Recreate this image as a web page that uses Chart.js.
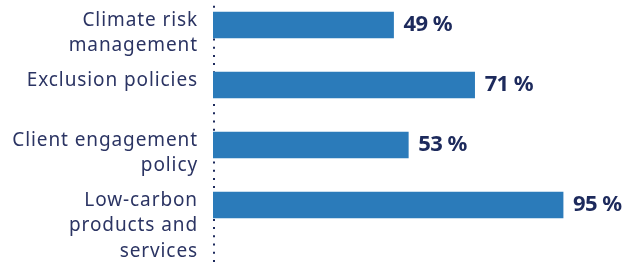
<!DOCTYPE html>
<html>
<head>
<meta charset="utf-8">
<script src="https://cdn.jsdelivr.net/npm/chart.js@4/dist/chart.umd.min.js"></script>
<style>
  html, body { margin: 0; padding: 0; background: #fff; overflow: hidden; }
  #wrap { position: absolute; left: 0; top: -5px; width: 632px; height: 274px; }
</style>
</head>
<body>
<div id="wrap"><canvas id="chart"></canvas></div>
<script>
var categories = [
  ['Climate risk', 'management'],
  ['Exclusion policies'],
  ['Client engagement', 'policy'],
  ['Low-carbon', 'products and', 'services']
];
var values = [49, 71, 53, 95];

var barColor = '#2b7bba';
var navy = '#1d2a5c';

// blank lines in front so the first text line sits on the bar
var labels = categories.map(function(lines) {
  var pad = [];
  for (var i = 1; i < lines.length; i++) pad.push('');
  return pad.concat(lines);
});

// wider tick text, the original font is broad
var spacing_plug = {
  id: 'tickSpacing',
  beforeDraw: function(chart) {
    chart.ctx.letterSpacing = '0.9px';
  }
};

var dotted_plug = {
  id: 'dottedAxis',
  beforeDatasetsDraw: function(chart) {
    var ctx = chart.ctx,
        x = chart.chartArea.left + 1;
    ctx.letterSpacing = '0px';
    ctx.save();
    ctx.strokeStyle = navy;
    ctx.lineWidth = 2;
    ctx.setLineDash([2, 6.2]);
    ctx.beginPath();
    ctx.moveTo(x, 2.5);
    ctx.lineTo(x, chart.height);
    ctx.stroke();
    ctx.restore();
  }
};

var values_plug = {
  id: 'valueLabels',
  afterDatasetsDraw: function(chart) {
    var ctx = chart.ctx;
    ctx.save();
    ctx.font = "bold 22px 'Noto Sans'";
    ctx.letterSpacing = '-0.6px';
    ctx.fillStyle = navy;
    ctx.textAlign = 'left';
    ctx.textBaseline = 'middle';
    chart.getDatasetMeta(0).data.forEach(function(bar, i) {
      ctx.fillText(values[i] + ' %', bar.x + 10, bar.y);
    });
    ctx.restore();
  }
};

var ctx = document.getElementById('chart').getContext('2d');
var chart = new Chart(ctx, {
  type: 'bar',
  plugins: [spacing_plug, dotted_plug, values_plug],
  data: {
    labels: labels,
    datasets: [{
      data: values,
      backgroundColor: barColor,
      borderWidth: 0,
      barThickness: 26
    }]
  },
  options: {
    indexAxis: 'y',
    responsive: true,
    maintainAspectRatio: false,
    animation: false,
    events: [],
    layout: { padding: { left: 0, right: 50.5, top: 0, bottom: 34 } },
    plugins: {
      legend: { display: false },
      tooltip: { enabled: false }
    },
    scales: {
      x: {
        display: false,
        min: 0,
        max: 100
      },
      y: {
        grid: { display: false, drawTicks: false },
        border: { display: false },
        afterFit: function(scale) {
          scale.width = 213;
          scale.paddingTop = 0;
          scale.paddingBottom = 0;
        },
        ticks: {
          autoSkip: false,
          padding: 15,
          labelOffset: -4,
          color: '#2b3463',
          font: { family: "'Noto Sans'", size: 19, lineHeight: 1.32 }
        }
      }
    }
  }
});
</script>
</body>
</html>
